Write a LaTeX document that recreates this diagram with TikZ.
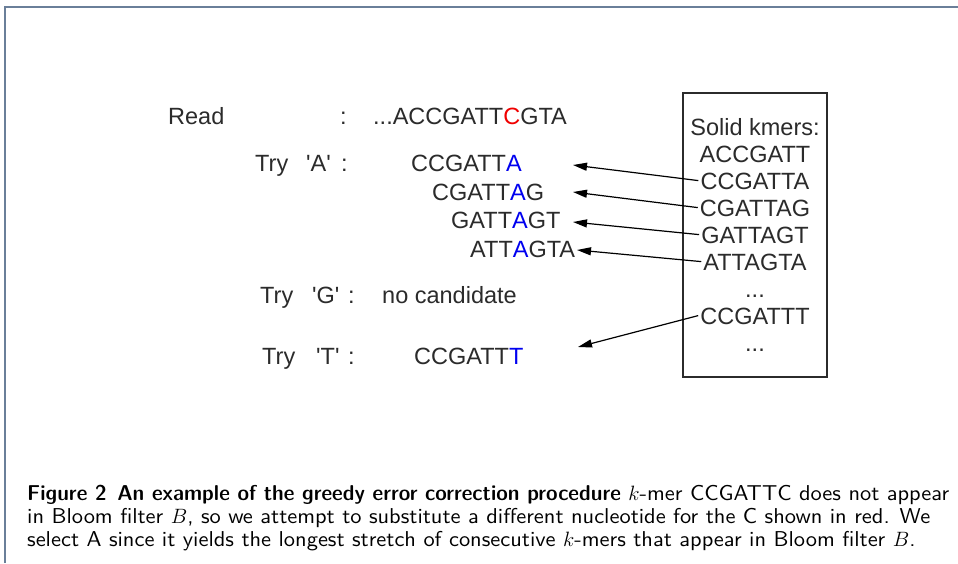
\documentclass[tikz,border=0pt]{standalone}
\usepackage{fontspec}
\newfontfamily\dia{Liberation Sans}
\newfontfamily\capfont{lmsans10-regular.otf}[FakeStretch=1.043]
\newfontfamily\capbf{lmsansdemicond10-regular.otf}[FakeStretch=1.127]
\usetikzlibrary{arrows.meta}
\definecolor{txt}{HTML}{2B2B2B}
\definecolor{framec}{HTML}{6A7F99}
\definecolor{cred}{HTML}{F00000}
\definecolor{cblue}{HTML}{0000F0}
\newcommand{\bl}[1]{{\color{cblue}#1}}
\tikzset{
  lbl/.style={font=\dia\fontsize{23.5}{27}\selectfont, text=txt, inner sep=0pt, anchor=base west},
  kmer/.style={font=\dia\fontsize{23.5}{27}\selectfont, text=txt, inner sep=2pt, text height=16.8pt, text depth=0pt, anchor=base},
  conn/.style={draw=black, line width=1.2pt, -{Triangle[length=14pt,width=8pt]}},
  captxt/.style={font=\capfont\fontsize{21.5}{23}\selectfont, text=black, inner sep=0pt, anchor=base west},
}
\begin{document}
\begin{tikzpicture}[x=1pt,y=-1pt]
\useasboundingbox[fill=white] (0,0) rectangle (958,563);
\draw[framec, line width=1.5pt] (5,563) -- (5,7) -- (958,7);
% box
\node[draw=txt, line width=1.3pt, minimum width=144pt, minimum height=284pt, inner sep=0pt] (box) at (755,235) {};
\node[kmer] (k0) at (755,135) {Solid kmers:};
\node[kmer] (k1) at (755,162) {ACCGATT};
\node[kmer] (k2) at (755,189) {CCGATTA};
\node[kmer] (k3) at (755,216) {CGATTAG};
\node[kmer] (k4) at (755,243) {GATTAGT};
\node[kmer] (k5) at (755,270) {ATTAGTA};
\node[kmer] (k6) at (755,297) {...};
\node[kmer] (k7) at (755,324) {CCGATTT};
\node[kmer] (k8) at (755,351) {...};
% left texts
\node[lbl] (rd) at (168,124) {Read};
\node[lbl] (rdc) at (340,124) {:};
\node[lbl] (rds) at (373,124) {...ACCGATT{\color{cred}C}GTA};
\node[lbl] (ta) at (255,171) {Try};
\node[lbl] (tab) at (306,171) {\textquotesingle A\textquotesingle};
\node[lbl] (tac) at (341,171) {:};
\node[lbl] (a1) at (411,171) {CCGATT\bl{A}};
\node[lbl] (a2) at (432,200) {CGATT\bl{A}G};
\node[lbl] (a3) at (451,228) {GATT\bl{A}GT};
\node[lbl] (a4) at (470,257) {ATT\bl{A}GTA};
\node[lbl] (tg) at (260,303) {Try};
\node[lbl] (tgb) at (312,303) {\textquotesingle G\textquotesingle};
\node[lbl] (tgc) at (348,303) {:};
\node[lbl] (gn) at (382,303) {no candidate};
\node[lbl] (tt) at (262,364) {Try};
\node[lbl] (ttb) at (316,364) {\textquotesingle T\textquotesingle};
\node[lbl] (ttc) at (348,364) {:};
\node[lbl] (t1s) at (414,364) {CCGATT\bl{T}};
% arrow tips
\coordinate (p1) at (573,165);
\coordinate (p2) at (573,192);
\coordinate (p3) at (573,222);
\coordinate (p4) at (577,250);
\coordinate (p5) at (578,347);
\draw[conn] (k2.west) -- (p1);
\draw[conn] (k3.west) -- (p2);
\draw[conn] (k4.west) -- (p3);
\draw[conn] (k5.west) -- (p4);
\draw[conn] (k7.west) -- (p5);
% caption
\node[captxt] (c1) at (27,500) {{\capbf Figure 2\hspace{0.5em}An example of the greedy error correction procedure} $k$-mer CCGATTC does not appear};
\node[captxt] (c2) at (27,523) {in Bloom filter $B$, so we attempt to substitute a different nucleotide for the C shown in red. We};
\node[captxt] (c3) at (27,546) {select A since it yields the longest stretch of consecutive $k$-mers that appear in Bloom filter $B$.};
\end{tikzpicture}
\end{document}
